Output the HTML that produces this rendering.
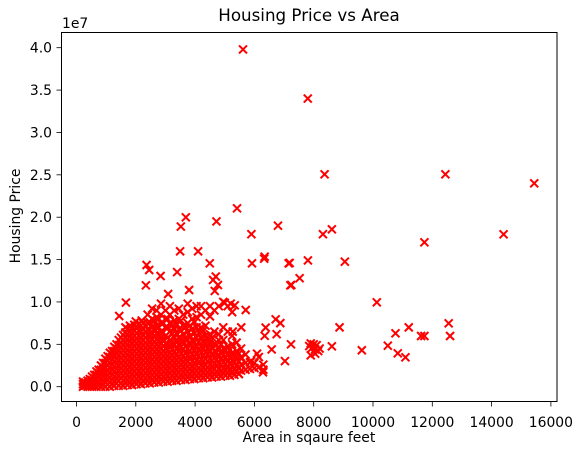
<!DOCTYPE html>
<html><head><meta charset="utf-8"><style>
html,body{margin:0;padding:0;background:#fff;}
svg{display:block;font-family:"DejaVu Sans","Liberation Sans",sans-serif;}
</style></head><body>
<svg id="chart" width="584" height="455" viewBox="0 0 584 455" xmlns="http://www.w3.org/2000/svg">
<rect width="584" height="455" fill="#fff"/>
<text x="309" y="21" font-size="16.7" text-anchor="middle" fill="#000">Housing Price vs Area</text>
<text x="309" y="442" font-size="13.9" text-anchor="middle" fill="#000">Area in sqaure feet</text>
<text x="0" y="0" font-size="13.9" text-anchor="middle" fill="#000" transform="translate(20,216) rotate(-90)">Housing Price</text>
<text x="62" y="28" font-size="13.9" fill="#000">1e7</text>
<g id="ticks"></g>
<g id="marks"></g>
<rect x="61.5" y="32.5" width="495.5" height="369" fill="none" stroke="#000" stroke-width="1"/>
</svg>
<script>
const xTicks = [0,2000,4000,6000,8000,10000,12000,14000,16000];
const yTicks = [0,0.5,1.0,1.5,2.0,2.5,3.0,3.5,4.0];
const yTickLabels = ["0.0","0.5","1.0","1.5","2.0","2.5","3.0","3.5","4.0"];
// outliers: area (sq ft), price (millions)
const outAreas = [5616,7800,8367,12441,15438,8311,8613,11734,14404,7805,9051,7525,7245,7190,10128,8872,12552,12599,11622,11734,11206,10758,10500,10835,11094,9623,8613,7900,8000,8100,7950,8050,8200,7900,8050,7850,8150,
5414,3687,3519,4720,6795,5899,3495,4101,2363,2451,4495,5919,6347,6330,7155,7212,3394,2835,2340,4697,4607,4770,4663,3798,3091,1667,1441,5707,5337,6717,6875,6380,6347,5556,5270,6750,7234,6582,7030,5890,5475,6290,6090,2000,2200,5000,5200];
const outPrices = [39.8,34.0,25.06,25.06,24.0,18.0,18.57,17.04,17.98,14.9,14.75,12.8,12.0,14.6,9.96,7.0,7.48,5.98,5.98,5.98,7.0,6.3,4.84,3.94,3.47,4.3,4.77,5.1,5.0,4.9,4.6,4.4,4.5,3.7,3.9,4.8,4.2,
21.05,19.99,18.9,19.5,19.0,18.0,15.97,15.97,14.36,13.77,14.56,14.56,15.34,15.1,14.56,11.96,13.53,13.06,11.96,13.0,12.6,12.0,11.3,11.41,10.94,9.93,8.34,9.05,9.6,7.95,7.5,6.97,6.0,7.0,6.5,6.2,5.0,4.4,3.03,3.0,1.5,1.7,3.9,7.7,7.8,9.9,9.8];
// dense cluster: column area (sq ft) with prices (millions)
const clusterAreas = [300,450,600,750,900,1050,1200,1350,1500,1650,1800,1950,2100,2250,2400,2550,2700,2850,3000,3150,3300,3450,3600,3750,3900,4050,4200,4350,4500,4650,4800,4950,5100,5250,5400,5550,5700,5850,6000,6150,6300];
const clusterPrices = [
[0.1,0.5],[0.1,0.5,0.9],[0.1,0.5,1.0,1.4],[0.2,0.6,1.1,1.6,2.0],[0.2,0.7,1.2,1.7,2.3,2.8],
[0.3,0.8,1.3,1.9,2.5,3.1,3.6],[0.3,0.8,1.4,2.0,2.6,3.2,3.8,4.2],[0.4,0.9,1.5,2.1,2.7,3.3,3.9,4.5,5.0],
[0.4,1.0,1.6,2.2,2.8,3.4,4.0,4.6,5.2,5.8],[0.5,1.0,1.6,2.2,2.8,3.4,4.0,4.6,5.2,5.8,6.4,7.0],
[0.5,1.1,1.7,2.3,2.9,3.5,4.1,4.7,5.3,5.9,6.5,7.2],[0.6,1.2,1.8,2.4,3.0,3.6,4.2,4.8,5.4,6.0,6.6,7.3],
[0.6,1.2,1.8,2.4,3.0,3.6,4.2,4.8,5.4,6.0,6.6,7.4],[0.7,1.3,1.9,2.5,3.1,3.7,4.3,4.9,5.5,6.1,6.8,7.5],
[0.7,1.3,1.9,2.5,3.1,3.7,4.3,4.9,5.5,6.1,6.8,7.5,8.5],[0.8,1.4,2.0,2.6,3.2,3.8,4.4,5.0,5.6,6.2,7.0,8.0,9.2],
[0.8,1.4,2.0,2.6,3.2,3.8,4.4,5.0,5.6,6.3,7.2,8.2,9.0],[0.9,1.5,2.1,2.7,3.3,3.9,4.5,5.1,5.8,6.5,7.5,8.5,9.8],
[0.9,1.5,2.1,2.7,3.3,3.9,4.5,5.1,6.0,7.0,8.0,9.0],[1.0,1.6,2.2,2.8,3.4,4.0,4.7,5.5,6.5,7.5,8.5,9.5],
[1.0,1.6,2.2,2.8,3.4,4.1,4.9,5.8,6.8,7.8,9.0],[1.1,1.7,2.3,2.9,3.5,4.2,5.0,5.8,6.8,8.0,9.2],
[1.1,1.7,2.3,2.9,3.6,4.4,5.3,6.2,7.2,8.5],[1.2,1.8,2.4,3.0,3.7,4.5,5.5,6.5,7.5,8.8,9.8],
[1.2,1.8,2.4,3.0,3.8,4.6,5.5,6.8,8.0,9.2],[1.3,1.9,2.5,3.1,3.9,4.8,5.8,7.0,8.2,9.5],
[1.3,1.9,2.5,3.2,4.0,4.8,5.8,7.0,8.5,9.5],[1.4,2.0,2.6,3.3,4.1,5.0,6.0,7.2,9.0],
[1.4,2.0,2.6,3.3,4.2,5.2,6.2,8.3,9.5],[1.5,2.1,2.7,3.4,4.2,5.0,6.5,9.0],
[1.5,2.1,2.8,3.6,4.5,5.5,6.2,9.5],[1.6,2.2,2.9,3.7,4.5,5.5,7.0,10.0],
[1.6,2.3,3.0,3.8,4.8,6.5,9.5],[1.7,2.4,3.1,4.0,5.0,6.0,8.8],[1.8,2.5,3.3,4.2,5.2],
[1.9,2.6,3.5,4.5],[2.0,2.8,3.8],[2.1,2.9],[2.2,2.8],[2.3,3.5],[2.0,2.6]];
// second, interleaved set of cluster observations
const cluster2Areas = [220,375,525,675,825,975,1125,1275,1425,1575,1725,1875,2025,2175,2325,2475,2625,2775,2925,3075,3225,3375,3525,3675,3825,3975,4125,4275,4425,4575,4725,4875,5025,5175,5325,5475];
const cluster2Prices = [
[0.0,0.3,0.6],[0.0,0.3,0.7],[0.0,0.3,0.8,1.2],[0.0,0.4,0.9,1.4,1.8],[0.0,0.4,0.9,1.5,2.0,2.5],
[0.0,0.5,1.0,1.6,2.2,2.8,3.3],[0.0,0.5,1.1,1.7,2.3,2.9,3.5,4.0],[0.1,0.6,1.2,1.8,2.4,3.0,3.6,4.2,4.7],
[0.1,0.7,1.3,1.9,2.5,3.1,3.7,4.3,4.9,5.5],[0.1,0.7,1.3,1.9,2.5,3.1,3.7,4.3,4.9,5.5,6.1],
[0.2,0.8,1.4,2.0,2.6,3.2,3.8,4.4,5.0,5.6,6.2,6.8],[0.2,0.9,1.5,2.1,2.7,3.3,3.9,4.5,5.1,5.7,6.3,6.9],
[0.3,0.9,1.5,2.1,2.7,3.3,3.9,4.5,5.1,5.7,6.3,7.0],[0.3,1.0,1.6,2.2,2.8,3.4,4.0,4.6,5.2,5.8,6.5,7.2],
[0.4,1.0,1.6,2.2,2.8,3.4,4.0,4.6,5.2,5.8,6.5,7.2],[0.4,1.1,1.7,2.3,2.9,3.5,4.1,4.7,5.3,6.0,6.7,7.6],
[0.5,1.1,1.7,2.3,2.9,3.5,4.1,4.7,5.3,6.0,6.8,7.8],[0.5,1.2,1.8,2.4,3.0,3.6,4.2,4.8,5.4,6.2,7.0,8.0],
[0.6,1.2,1.8,2.4,3.0,3.6,4.2,4.8,5.5,6.4,7.5],[0.6,1.3,1.9,2.5,3.1,3.7,4.3,5.0,5.8,7.0,8.0],
[0.7,1.3,1.9,2.5,3.1,3.7,4.4,5.2,6.2,7.2],[0.7,1.4,2.0,2.6,3.2,3.8,4.5,5.4,6.3,7.4],
[0.8,1.4,2.0,2.6,3.2,3.9,4.7,5.6,6.6,7.8],[0.8,1.5,2.1,2.7,3.3,4.0,4.8,5.8,7.0],
[0.9,1.5,2.1,2.7,3.4,4.2,5.0,6.0,7.2],[0.9,1.6,2.2,2.8,3.5,4.3,5.2,6.3,7.6],
[1.0,1.6,2.2,2.9,3.6,4.4,5.3,6.4],[1.0,1.7,2.3,3.0,3.7,4.5,5.4,6.6],
[1.1,1.7,2.3,3.0,3.8,4.6,5.6],[1.1,1.8,2.4,3.1,3.8,4.6,5.8],
[1.2,1.8,2.5,3.2,4.0,4.9],[1.2,1.9,2.6,3.3,4.1,5.0],[1.3,2.0,2.7,3.4,4.3],
[1.3,2.0,2.7,3.5,4.4],[1.4,2.1,2.9,3.7],[1.5,2.2,3.0,3.9]];

const NS = "http://www.w3.org/2000/svg";
const X0 = 76.5, XS = 0.02965;      // px per sq ft
const Y0 = 386.7, YS = 84.75 / 10;  // px per million
function xScale(v){ return X0 + v * XS; }
function yScale(m){ return Y0 - m * YS; }

const ticks = document.getElementById('ticks');
xTicks.forEach(function(t){
  const x = xScale(t);
  const l = document.createElementNS(NS,'line');
  l.setAttribute('x1',x); l.setAttribute('x2',x); l.setAttribute('y1',401.5); l.setAttribute('y2',406.5);
  l.setAttribute('stroke','#000'); l.setAttribute('stroke-width','0.8');
  
  
  ticks.appendChild(l);
  const tx = document.createElementNS(NS,'text');
  tx.setAttribute('x',x); tx.setAttribute('y',427); tx.setAttribute('font-size','13.9');
  tx.setAttribute('text-anchor','middle'); tx.textContent = String(t);
  
  
  ticks.appendChild(tx);
});
yTicks.forEach(function(t,i){
  const y = yScale(t*10);
  const l = document.createElementNS(NS,'line');
  l.setAttribute('x1',56.5); l.setAttribute('x2',61.5); l.setAttribute('y1',y); l.setAttribute('y2',y);
  l.setAttribute('stroke','#000'); l.setAttribute('stroke-width','0.8');
  
  
  ticks.appendChild(l);
  const tx = document.createElementNS(NS,'text');
  tx.setAttribute('x',52); tx.setAttribute('y',y+5); tx.setAttribute('font-size','13.9');
  tx.setAttribute('text-anchor','end'); tx.textContent = yTickLabels[i];
  
  
  ticks.appendChild(tx);
});

const marks = document.getElementById('marks');
function cross(a, m){
  const x = xScale(a), y = yScale(m), r = 4;
  const p = document.createElementNS(NS,'path');
  p.setAttribute('d','M'+(x-r)+' '+(y-r)+'L'+(x+r)+' '+(y+r)+'M'+(x-r)+' '+(y+r)+'L'+(x+r)+' '+(y-r));
  p.setAttribute('stroke','#ff0000'); p.setAttribute('stroke-width','2'); p.setAttribute('fill','none');
  
  
  marks.appendChild(p);
}
clusterAreas.forEach(function(a,i){ clusterPrices[i].forEach(function(m){ cross(a,m); }); });
cluster2Areas.forEach(function(a,i){ cluster2Prices[i].forEach(function(m){ cross(a,m); }); });
outAreas.forEach(function(a,i){ cross(a, outPrices[i]); });
</script>
</body></html>
